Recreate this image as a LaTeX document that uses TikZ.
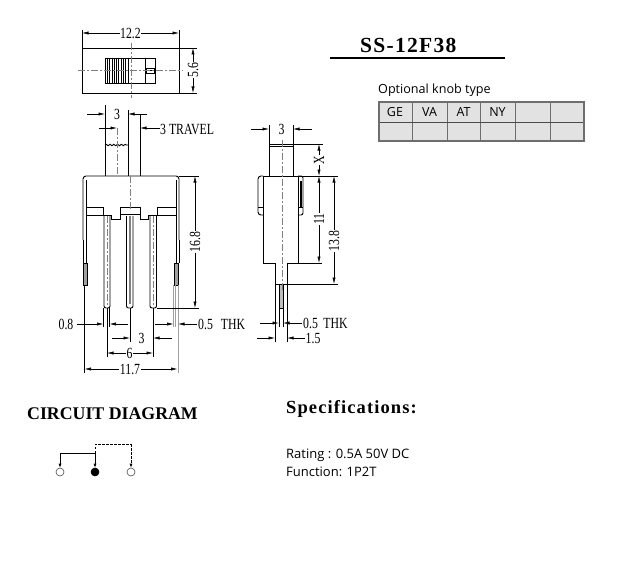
\documentclass[tikz,border=0pt]{standalone}
\usepackage{fontspec}
\usetikzlibrary{arrows.meta,decorations.pathmorphing}
\setmainfont{Liberation Serif}
\newfontfamily\dimfont[FakeStretch=0.76]{Liberation Serif}
\newfontfamily\headfont[LetterSpace=6]{Liberation Serif}
\newfontfamily\plainhead{Liberation Serif}
\newfontfamily\bodyfont{Open Sans}
\definecolor{cellfill}{HTML}{E2E2E2}
\definecolor{cellline}{HTML}{6E6E6E}
\definecolor{pingrey}{HTML}{A0A0A0}
\tikzset{
  part/.style={draw=black,line width=0.9pt},
  thin part/.style={draw=black,line width=0.7pt},
  extline/.style={draw=black,line width=0.55pt},
  centreline/.style={draw=gray,line width=0.6pt,dash pattern=on 7pt off 2pt on 2pt off 2pt},
  dimarrow/.style={draw=black,line width=0.6pt,-{Latex[length=6.5pt,width=3.2pt]}},
  dimboth/.style={draw=black,line width=0.6pt,{Latex[length=6.5pt,width=3.2pt]}-{Latex[length=6.5pt,width=3.2pt]}},
  dimtext/.style={inner sep=0.6pt,fill=white,font=\dimfont\fontsize{15.5}{15.5}\selectfont},
  dimlabel/.style={inner sep=0pt,anchor=west,font=\dimfont\fontsize{15.5}{15.5}\selectfont},
  knobtext/.style={inner sep=0pt,font=\bodyfont\fontsize{12.5}{13}\selectfont},
  bodytext/.style={inner sep=0pt,anchor=base west,font=\bodyfont\fontsize{13}{14}\selectfont},
  headtext/.style={inner sep=0pt,anchor=base west,font=\headfont\bfseries},
  greypin/.style={fill=pingrey,draw=black,line width=0.5pt},
  circuit/.style={draw=black,line width=0.6pt},
  circuitarrow/.style={circuit,-{Latex[length=4pt,width=3pt]}},
  terminal/.style={draw=black!70,line width=0.6pt,fill=white}
}
\begin{document}
\begin{tikzpicture}[x=1pt,y=-1pt]
\useasboundingbox (0,0) rectangle (617,567);
%% ---------- top view
\draw[part] (82,48) rectangle (179,93);
\draw[part] (105,58) rectangle (155,83);
\foreach \x in {105,107.3,...,130}{\draw[black,line width=0.8pt] (\x,58) -- (\x,83);}
\draw[part] (145,58) -- (145,83);
\draw[thin part] (146,68) rectangle (154,73);
\draw[thin part] (146,70.5) -- (154,70.5);
\draw[centreline] (131,43) -- (131,98);
\draw[centreline] (78,70) -- (183,70);
\draw[extline] (82,30) -- (82,48);
\draw[extline] (179,30) -- (179,48);
\draw[dimboth] (82,33) -- (179,33);
\node[dimtext] (w122) at (130.5,33) {12.2};
\draw[extline] (179,48) -- (197,48);
\draw[extline] (179,93) -- (197,93);
\draw[dimboth] (193,48) -- (193,93);
\node[dimtext,rotate=90] (h56) at (193,70) {5.6};
%% ---------- title and knob table
\node[headtext,font=\headfont\bfseries\fontsize{21.5}{22}\selectfont] (title) at (360,53) {SS-12F38};
\draw[black,line width=1.8pt] (330,58) -- (505,58);
\node[inner sep=0pt,anchor=base west,font=\bodyfont\fontsize{12.6}{14}\selectfont] (optional) at (378,94) {Optional knob type};
\fill[cellfill] (379,102) rectangle (584,141);
\foreach \x in {412,447,480,515,550}{\draw[cellline,line width=0.6pt] (\x,102) -- (\x,141);}
\draw[black!70,line width=0.8pt] (379,122) -- (584,122);
\draw[cellline,line width=1.2pt] (379,102) rectangle (584,141);
\node[knobtext] (ge) at (395,112.5) {GE};
\node[knobtext] (va) at (429.5,112.5) {VA};
\node[knobtext] (at) at (463.5,112.5) {AT};
\node[knobtext] (ny) at (497.5,112.5) {NY};
%% ---------- front view
\draw[part] (105,176) -- (105,145);
\draw[part] (128,145) -- (128,176);
\draw[part,decorate,decoration={snake,amplitude=0.7pt,segment length=3.8pt}] (105,145) -- (128,145);
\draw[extline] (105,105) -- (105,145);
\draw[extline] (128,110) -- (128,145);
\draw[extline] (140,115) -- (140,176);
\draw[dimarrow] (87,114) -- (105,114);
\draw[dimarrow] (147,114) -- (128,114);
\node[dimtext] (f3) at (117,114) {3};
\draw[dimarrow] (99,128) -- (117,128);
\draw[dimarrow] (160,128) -- (140,128);
\node[dimlabel] (travel) at (160,129) {3 TRAVEL};
\draw[centreline] (117,128) -- (117,176);
% body
\draw[part,rounded corners=3pt] (83,240) -- (83,176) -- (179,176) -- (179,240);
\draw[part] (86,180) -- (86,263);
\draw[part] (83,240) -- (83,263);
\draw[part] (176,180) -- (176,263);
\draw[part] (179,240) -- (179,263);
\draw[greypin] (83,263) rectangle (87,285);
\draw[greypin] (174.5,263) rectangle (178.5,285);
\draw[part] (86,207) -- (103,207) -- (103,215) -- (111,215) -- (111,219) -- (120,219) -- (120,207)
  -- (140,207) -- (140,219) -- (148,219) -- (148,215) -- (157,215) -- (157,207) -- (176,207);
\draw[thin part] (86,215) -- (103,215);
\draw[thin part] (157,215) -- (176,215);
\draw[thin part] (120,214) -- (140,214);
% pins
\foreach \a/\b in {104/110,126.5/133,150/156.5}{
  \draw[part,rounded corners=2pt] (\a,216) -- (\a,308) -- (\b,308) -- (\b,216);
}
\draw[centreline] (130,176) -- (130,210);
\draw[gray,line width=1.5pt] (130,216) -- (130,304);
\draw[centreline] (107,216) -- (107,306);
\draw[centreline] (153,216) -- (153,306);
% dims under the pins
\draw[extline] (103.5,308) -- (103.5,327);
\draw[extline] (109.5,308) -- (109.5,327);
\draw[dimarrow] (77,324) -- (103.5,324);
\draw[dimarrow] (128,324) -- (109.5,324);
\node[dimtext] (f08) at (66,324) {0.8};
\draw[pingrey,line width=0.7pt] (173.5,285) -- (173.5,327);
\draw[pingrey,line width=0.7pt] (178,285) -- (178,373);
\draw[pingrey,line width=0.7pt] (175.7,285) -- (175.7,327);
\draw[dimarrow] (155,324) -- (173.5,324);
\draw[dimarrow] (197,324) -- (178,324);
\node[dimlabel] (f05) at (198,324) {0.5\hspace{5pt} THK};
\draw[extline] (130,308) -- (130,342);
\draw[extline] (153,308) -- (153,357);
\draw[extline] (107,308) -- (107,357);
\draw[dimarrow] (112,338) -- (130,338);
\draw[dimarrow] (172,338) -- (153,338);
\node[dimtext] (f3b) at (141.5,338) {3};
\draw[dimboth] (107,353) -- (153,353);
\node[dimtext] (f6) at (129.5,353) {6};
\draw[extline] (84.5,285) -- (84.5,373);
\draw[dimboth] (84.5,369) -- (177.5,369);
\node[dimtext] (f117) at (130,369) {11.7};
\draw[extline] (179,176) -- (199,176);
\draw[extline] (157,308) -- (199,308);
\draw[dimboth] (195,176) -- (195,308);
\node[dimtext,rotate=90] (f168) at (195,242) {16.8};
%% ---------- side view
\draw[part] (269,176) -- (269,144) -- (293,144) -- (293,176);
\draw[thin part] (269,146) -- (293,146);
\draw[part] (263,176) -- (298,176) -- (298,263) -- (287,263) -- (287,284) -- (275,284) -- (275,263) -- (263,263) -- cycle;
\draw[part,rounded corners=3pt] (263,176) -- (258,176) -- (258,215) -- (263,215);
\draw[thin part] (258,207) -- (263,207);
\draw[part,rounded corners=2pt] (298,176) -- (303,176) -- (303,215) -- (298,215);
\draw[thin part] (298,207) -- (303,207);
\draw[black,line width=2pt] (301,181) -- (301,207);
\draw[fill=pingrey!70,draw=black,line width=0.6pt] (279,284) rectangle (283,308);
\draw[centreline] (282,140) -- (282,290);
\draw[extline] (269,125) -- (269,144);
\draw[extline] (293,125) -- (293,144);
\draw[dimarrow] (251,129) -- (269,129);
\draw[dimarrow] (312,129) -- (293,129);
\node[dimtext] (s3) at (281.5,129) {3};
\draw[extline] (293,144) -- (323,144);
\draw[extline] (298,176) -- (338,176);
\draw[extline] (298,263) -- (322,263);
\draw[extline] (287,284) -- (338,284);
\draw[dimboth] (319,144) -- (319,176);
\node[dimtext,rotate=90] (sx) at (319,160) {X};
\draw[dimboth] (319,176) -- (319,263);
\node[dimtext,rotate=90] (s11) at (319,219) {11};
\draw[dimboth] (334,176) -- (334,284);
\node[dimtext,rotate=90] (s138) at (334,241) {13.8};
\draw[extline] (275,284) -- (275,342);
\draw[extline] (287,284) -- (287,342);
\draw[extline] (279,308) -- (279,327);
\draw[extline] (283,308) -- (283,327);
\draw[dimarrow] (260,323) -- (279,323);
\draw[dimarrow] (302,323) -- (283,323);
\node[dimlabel] (s05) at (303,323) {0.5\hspace{2.5pt} THK};
\draw[dimarrow] (257,338) -- (275,338);
\draw[dimarrow] (305,338) -- (287,338);
\node[dimlabel] (s15) at (305.5,338) {1.5};
%% ---------- circuit diagram
\node[headtext,font=\plainhead\bfseries\fontsize{17.8}{18}\selectfont] (circ) at (27,419) {CIRCUIT DIAGRAM};
\node[circle,terminal,minimum size=8pt,inner sep=0pt] (t1) at (60,472) {};
\node[circle,draw=black,fill=black,line width=0.6pt,minimum size=8pt,inner sep=0pt] (t2) at (95,472) {};
\node[circle,terminal,minimum size=8pt,inner sep=0pt] (t3) at (131,472) {};
\coordinate (j1) at (60,453);
\coordinate (j2) at (95,453);
\coordinate (j3) at (95,444);
\coordinate (j4) at (131,444);
\draw[circuitarrow] (j2) -- (t2);
\draw[circuit] (j2) -- (j1);
\draw[circuitarrow] (j1) -- (t1);
\draw[circuit,dash pattern=on 2.5pt off 1.5pt] (j2) -- (j3) -- (j4);
\draw[circuitarrow,dash pattern=on 2.5pt off 1.5pt] (j4) -- (t3);
%% ---------- specifications
\node[headtext,font=\headfont\bfseries\fontsize{18.5}{19}\selectfont] (spec) at (286,413) {Specifications:};
\node[bodytext] (rating) at (286,458) {Rating : 0.5A 50V DC};
\node[bodytext] (func) at (286,476) {Function: 1P2T};
\end{tikzpicture}
\end{document}
